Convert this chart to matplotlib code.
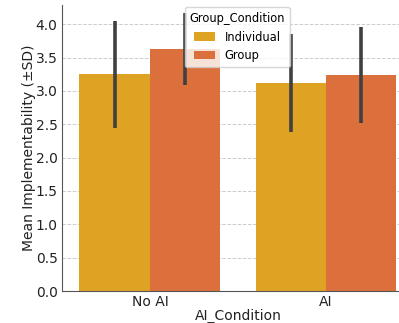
import matplotlib
matplotlib.use("Agg")
import matplotlib.pyplot as plt
import numpy as np

categories = ["No AI", "AI"]
groups = ["Individual", "Group"]
means = {"Individual": [3.25, 3.12], "Group": [3.63, 3.24]}
sds = {"Individual": [0.80, 0.73], "Group": [0.54, 0.72]}
colors = {"Individual": "#DEA323", "Group": "#DC703C"}

fig = plt.figure(figsize=(3.99, 3.23), dpi=100)
ax = fig.add_axes([0.155, 0.099, 1.0376 - 0.155, 0.985 - 0.099])

x = np.arange(len(categories))
w = 0.4
for i, g in enumerate(groups):
    pos = x + (i - 0.5) * w
    ax.bar(pos, means[g], width=w, color=colors[g], label=g, zorder=2)
    ax.errorbar(pos, means[g], yerr=sds[g], fmt="none", ecolor="#404040",
                elinewidth=2.6, capsize=0, zorder=3)

ax.set_xlim(-0.5, 1.5)
ax.set_ylim(0, 4.29)
ax.set_yticks(np.arange(0, 4.01, 0.5))
ax.set_xticks(x)
ax.set_xticklabels(categories)
ax.yaxis.grid(True, linestyle="--", color="#cccccc", linewidth=0.7, zorder=0)
ax.set_axisbelow(True)
ax.spines["top"].set_visible(False)
ax.spines["right"].set_visible(False)
for s in ("left", "bottom"):
    ax.spines[s].set_color("#555555")
ax.tick_params(colors="#222222", labelsize=10, length=0, pad=3)
ax.set_xlabel("AI_Condition", fontsize=10, color="#222222", labelpad=0)
ax.set_ylabel("Mean Implementability (±SD)", fontsize=10, color="#222222", labelpad=0)

leg = ax.legend(title="Group_Condition", loc="upper center", bbox_to_anchor=(0.4986, 1.0),
                fontsize=8.3, title_fontsize=8.3, frameon=True, borderaxespad=0.2,
                handlelength=1.8)
leg.set_zorder(5)

fig.savefig("out.png", dpi=100)
